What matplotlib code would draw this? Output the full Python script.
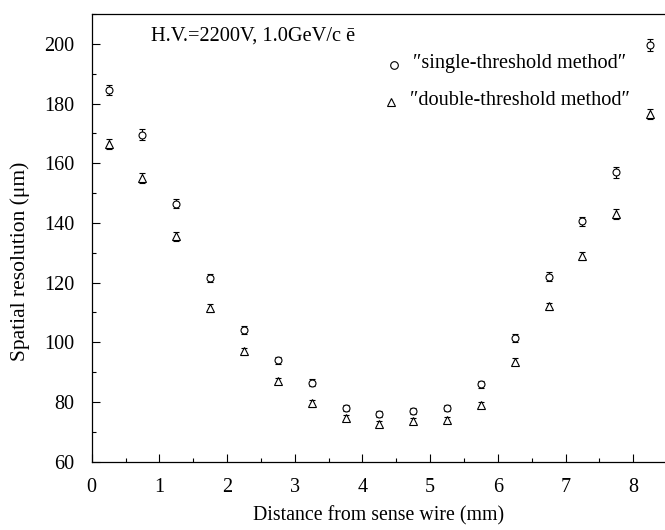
import matplotlib
matplotlib.use("Agg")
import matplotlib.pyplot as plt
from matplotlib.ticker import MultipleLocator

plt.rcParams['font.family'] = ['Liberation Serif', 'DejaVu Serif']

distance = [0.25, 0.75, 1.25, 1.75, 2.25, 2.75, 3.25, 3.75, 4.25,
            4.75, 5.25, 5.75, 6.25, 6.75, 7.25, 7.75, 8.25]
single = [184.5, 169.5, 146.5, 121.5, 104, 94, 86.5, 78, 76,
          77, 78, 86, 101.5, 122, 140.5, 157, 199.5]
single_err = [1.8, 1.8, 1.6, 1.4, 1.3, 1.2, 1.2, 1.1, 1.1,
              1.1, 1.1, 1.2, 1.3, 1.4, 1.6, 1.8, 2.0]
double = [166.5, 155, 135.5, 111.5, 97, 87, 79.5, 74.5, 72.5,
          73.5, 74, 79, 93.5, 112, 129, 143, 176.5]
double_err = [1.6, 1.6, 1.4, 1.3, 1.2, 1.1, 1.1, 1.0, 1.0,
              1.0, 1.0, 1.1, 1.2, 1.3, 1.4, 1.6, 1.8]
labels = ['″single-threshold method″', '″double-threshold method″']
annotation = 'H.V.=2200V, 1.0GeV/c ē'

fig = plt.figure(figsize=(6.65, 5.3), dpi=100)
ax = fig.add_axes([0.1379, 0.1289, 0.8621, 0.8447])

style = dict(mfc='white', mec='black', mew=0.8, ecolor='black',
             elinewidth=0.8, capsize=2, capthick=0.8)
ax.errorbar(distance, single, yerr=single_err, fmt='o', ms=5, **style)
ax.errorbar(distance, double, yerr=double_err, fmt='^', ms=5.5, **style)

ax.set_xlim(0, 8.47)
ax.set_ylim(60, 210)
ax.xaxis.set_major_locator(MultipleLocator(1))
ax.xaxis.set_minor_locator(MultipleLocator(0.5))
ax.yaxis.set_major_locator(MultipleLocator(20))
ax.yaxis.set_minor_locator(MultipleLocator(10))
ax.tick_params(which='both', direction='in', top=False, right=False, labelsize=14.5)
ax.tick_params(axis='x', pad=12)
ax.tick_params(axis='y', pad=12.5)
ax.tick_params(which='major', length=6, width=0.8)
ax.tick_params(which='minor', length=3, width=0.8)
ax.spines['right'].set_visible(False)
for s in ['left', 'bottom', 'top']:
    ax.spines[s].set_linewidth(0.9)

ax.set_xlabel('Distance from sense wire (mm)', fontsize=14.3, va='center')
ax.set_ylabel('Spatial resolution (μm)', fontsize=15.5, va='center')
ax.xaxis.set_label_coords(0.5, -0.121)
ax.yaxis.set_label_coords(-0.125, 0.448)

ax.text(0.1035, 0.9397, annotation, transform=ax.transAxes, fontsize=14.7, va='baseline')

# legend drawn as marker + text pairs
ax.plot([0.527], [0.887], ls='none', marker='o', mfc='white', mec='black', ms=5.5,
        mew=0.8, transform=ax.transAxes, clip_on=False)
ax.text(0.560, 0.879, labels[0], transform=ax.transAxes, fontsize=14.6, va='baseline')
ax.plot([0.522], [0.803], ls='none', marker='^', mfc='white', mec='black', ms=6,
        mew=0.8, transform=ax.transAxes, clip_on=False)
ax.text(0.556, 0.797, labels[1], transform=ax.transAxes, fontsize=14.6, va='baseline')

fig.savefig('out.png', dpi=100)
